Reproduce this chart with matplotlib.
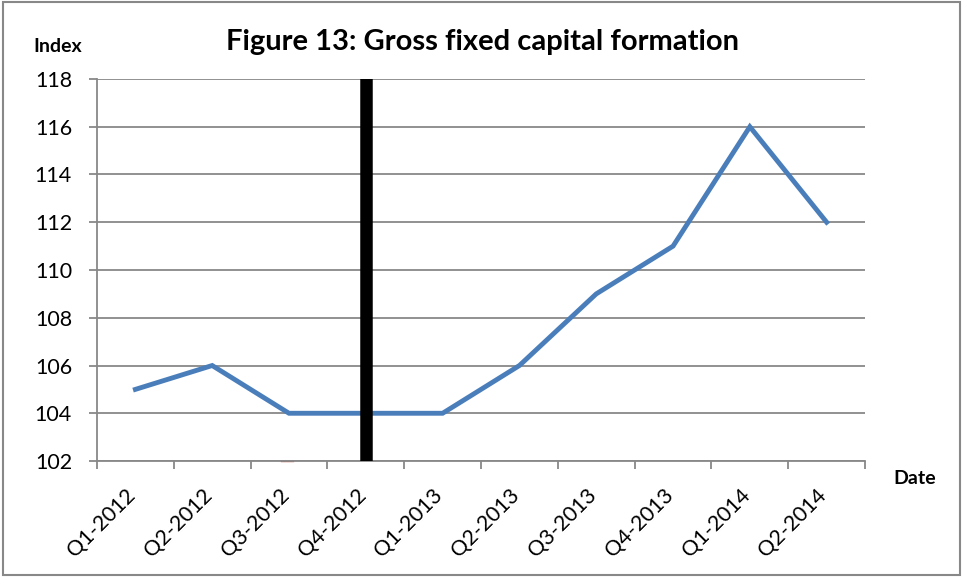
import matplotlib.pyplot as plt
from matplotlib.patches import Rectangle
from matplotlib.transforms import ScaledTranslation
import numpy as np

# --- DATA ---
quarters = ['Q1-2012', 'Q2-2012', 'Q3-2012', 'Q4-2012', 'Q1-2013',
            'Q2-2013', 'Q3-2013', 'Q4-2013', 'Q1-2014', 'Q2-2014']
index_values = [105, 106, 104, 104, 104, 106, 109, 111, 116, 112]
marker_quarter = 'Q4-2012'
y_ticks = [102, 104, 106, 108, 110, 112, 114, 116, 118]

# --- STYLE ---
plt.rcParams['font.family'] = ['Lato', 'DejaVu Sans']
grid_col = '#888888'
line_col = '#4A7EBB'

fig = plt.figure(figsize=(9.63, 5.77), dpi=100)
ax = fig.add_axes([0.1007, 0.2010, 0.7976, 0.6621])

x = np.arange(len(quarters))
ax.plot(x, index_values, color=line_col, lw=3.5, solid_joinstyle='miter', zorder=3)

# vertical marker bar
ax.axvline(quarters.index(marker_quarter), color='black', lw=9, zorder=4)

ax.set_xlim(-0.5, len(quarters) - 0.5)
ax.set_ylim(y_ticks[0], y_ticks[-1])
ax.set_yticks(y_ticks)
ax.set_yticklabels([str(v) for v in y_ticks], fontsize=15.5)
ax.yaxis.grid(True, color=grid_col, lw=1.3)
ax.set_axisbelow(True)

# category labels drawn as rotated texts (tick labels reset their transforms)
ax.set_xticks(x)
ax.set_xticklabels([])
off = ScaledTranslation(-0.10, -0.24, fig.dpi_scale_trans)
for i, q in enumerate(quarters):
    ax.text(i, 0, q, transform=ax.get_xaxis_transform() + off, fontsize=15.5,
            rotation=45, ha='right', va='top', rotation_mode='anchor')
ax.set_xticks(np.arange(-0.5, len(quarters), 1.0), minor=True)
ax.tick_params(axis='x', which='major', length=0)
ax.tick_params(axis='x', which='minor', length=6, width=1.3, color=grid_col)
ax.tick_params(axis='y', length=6, width=1.3, color=grid_col, pad=12)

for s in ['top', 'right']:
    ax.spines[s].set_visible(False)
for s in ['left', 'bottom']:
    ax.spines[s].set_color(grid_col)
    ax.spines[s].set_linewidth(1.3)

# small red artifact below axis
ax.plot([1.9, 2.05], [102.0, 102.0], color='#C0504D', lw=1, clip_on=False, zorder=2)

fig.text(482 / 963, 1 - 42 / 577, 'Figure 13: Gross fixed capital formation',
         fontsize=21, fontweight='bold', ha='center', va='center')
fig.text(33 / 963, 1 - 47 / 577, 'Index', fontsize=14, fontweight='bold', va='center')
fig.text(893 / 963, 1 - 478 / 577, 'Date', fontsize=14, fontweight='bold', va='center')

# outer border
fig.patches.append(Rectangle((0.003, 0.004), 0.994, 0.992, transform=fig.transFigure,
                             fill=False, edgecolor='#888888', lw=1.5))

fig.savefig('out.png', dpi=100)
